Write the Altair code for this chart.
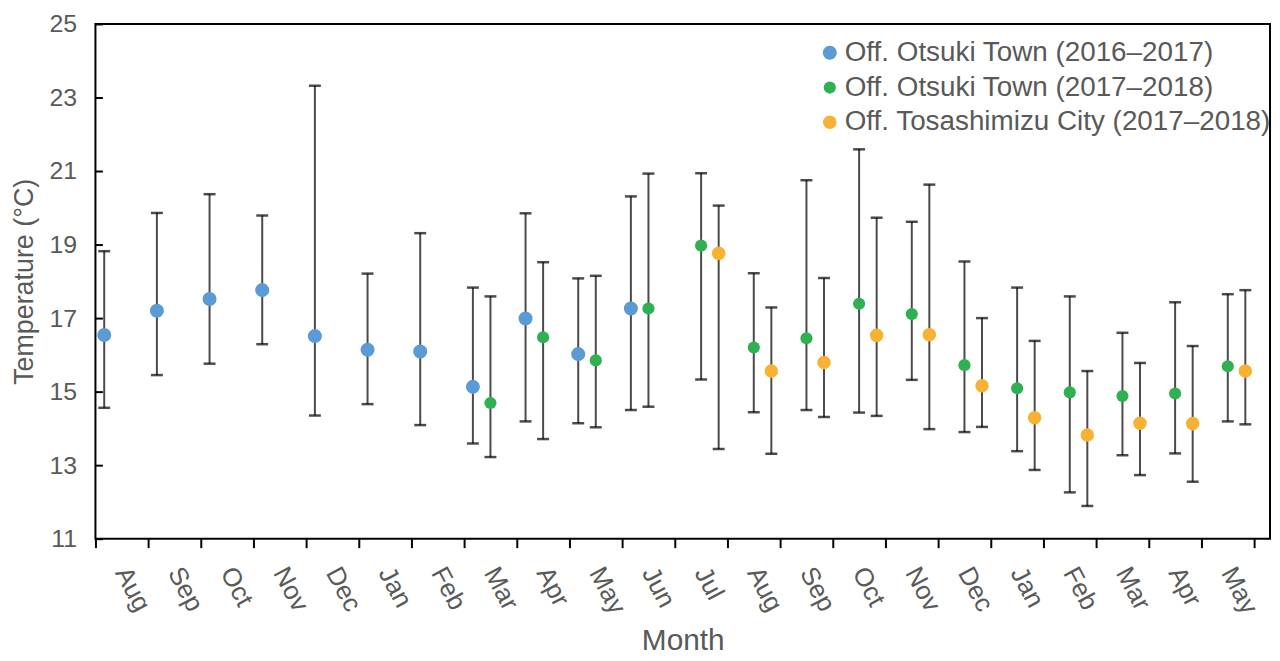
import altair as alt
import pandas as pd

# ---------------- data ----------------
months = ["Aug", "Sep", "Oct", "Nov", "Dec", "Jan", "Feb", "Mar", "Apr", "May", "Jun",
          "Jul", "Aug", "Sep", "Oct", "Nov", "Dec", "Jan", "Feb", "Mar", "Apr", "May"]
years = [2016] * 5 + [2017] * 12 + [2018] * 5
cats = [f"{m} {y}" for m, y in zip(months, years)]

s1 = "Off. Otsuki Town (2016\u20132017)"
s2 = "Off. Otsuki Town (2017\u20132018)"
s3 = "Off. Tosashimizu City (2017\u20132018)"
series_names = [s1, s2, s3]
series_colors = ["#5B9BD5", "#2EB053", "#F7B234"]
series_sizes = [200, 150, 185]

# Off. Otsuki Town 2016-2017 : Aug 2016 .. Jun 2017
blue_cats = cats[0:11]
blue_mean = [16.54, 17.20, 17.52, 17.76, 16.51, 16.14, 16.09, 15.13, 16.99, 16.02, 17.26]
blue_hi = [18.82, 19.86, 20.37, 19.79, 23.32, 18.21, 19.31, 17.83, 19.85, 18.08, 20.31]
blue_lo = [14.56, 15.45, 15.76, 16.29, 14.35, 14.66, 14.09, 13.59, 14.19, 14.14, 14.50]

# Off. Otsuki Town 2017-2018 : Mar 2017 .. May 2018
green_cats = cats[7:22]
green_mean = [14.69, 16.48, 15.85, 17.26, 18.97, 16.20, 16.45, 17.39, 17.11, 15.72, 15.09,
              14.98, 14.88, 14.95, 15.69]
green_hi = [17.59, 18.52, 18.15, 20.93, 20.94, 18.22, 20.75, 21.59, 19.62, 18.54, 17.83,
            17.59, 16.60, 17.43, 17.65]
green_lo = [13.22, 13.71, 14.03, 14.59, 15.33, 14.44, 14.50, 14.43, 15.32, 13.90, 13.38,
            12.26, 13.27, 13.32, 14.19]

# Off. Tosashimizu City 2017-2018 : Jul 2017 .. May 2018
orange_cats = cats[11:22]
orange_mean = [18.76, 15.56, 15.79, 16.53, 16.55, 15.16, 14.29, 13.82, 14.14, 14.13, 15.56]
orange_hi = [20.06, 17.29, 18.09, 19.73, 20.63, 17.00, 16.38, 15.56, 15.78, 16.24, 17.76]
orange_lo = [13.44, 13.31, 14.31, 14.34, 13.98, 14.04, 12.87, 11.89, 12.73, 12.55, 14.11]

y_ticks = [11, 13, 15, 17, 19, 21, 23, 25]

rows = []
for name, cs, ms, hs, ls in [
    (s1, blue_cats, blue_mean, blue_hi, blue_lo),
    (s2, green_cats, green_mean, green_hi, green_lo),
    (s3, orange_cats, orange_mean, orange_hi, orange_lo),
]:
    for c, m, h, l in zip(cs, ms, hs, ls):
        rows.append({"cat": c, "series": name, "mean": m, "hi": h, "lo": l})
df = pd.DataFrame(rows)

# ---------------- encodings ----------------
FONT = "Liberation Sans"
GRAY = "#595959"

x_domain = cats + ["end"]
x_axis = alt.Axis(
    title="Month", bandPosition=0, domain=False, grid=False,
    ticks=True, tickSize=9, tickWidth=2, tickColor="black",
    labelAngle=62, labelAlign="left", labelBaseline="middle", labelPadding=21,
    labelFontSize=26, labelColor=GRAY, labelFont=FONT, labelOverlap=False,
    labelExpr="datum.label == 'end' ? '' : split(datum.label, ' ')[0]",
    titleFontSize=30, titleColor=GRAY, titleFont=FONT, titleFontWeight="normal",
    titleX=591, titleY=118, titleBaseline="bottom", titleAlign="center",
)
x_enc = alt.X("cat:N", sort=x_domain,
              scale=alt.Scale(domain=x_domain, range=[0, 1219], paddingInner=0, paddingOuter=0),
              axis=x_axis)
xoff_enc = alt.XOffset("series:N", sort=series_names,
                       scale=alt.Scale(domain=series_names, paddingInner=0, paddingOuter=0))
y_scale = alt.Scale(domain=[11, 25], nice=False, zero=False)

main_y_axis = alt.Axis(
    title="Temperature (\u00b0C)", values=y_ticks, domain=False, grid=False,
    ticks=False, tickSize=0, labelPadding=19,
    labelFontSize=25, labelColor=GRAY, labelFont=FONT,
    titleFontSize=27, titleColor=GRAY, titleFont=FONT, titleFontWeight="normal",
    titleX=-57, titleY=259, titleAngle=270, titleBaseline="bottom", titleAlign="center",
    orient="left",
)
tick_y_axis = alt.Axis(
    title=None, values=y_ticks, labels=False, domain=False, grid=False,
    ticks=True, tickSize=7, tickWidth=2, tickColor="black", offset=-7, orient="left",
)

base = alt.Chart(df)

bars = base.mark_rule(color="#4a4a4a", strokeWidth=2).encode(
    x=x_enc, xOffset=xoff_enc,
    y=alt.Y("lo:Q", scale=y_scale, axis=tick_y_axis),
    y2="hi:Q",
)
cap_lo = base.mark_tick(color="black", thickness=2.5, size=12, orient="horizontal").encode(
    x=x_enc, xOffset=xoff_enc,
    y=alt.Y("lo:Q", scale=y_scale, axis=None),
)
cap_hi = base.mark_tick(color="black", thickness=2.5, size=12, orient="horizontal").encode(
    x=x_enc, xOffset=xoff_enc,
    y=alt.Y("hi:Q", scale=y_scale, axis=None),
)
points = base.mark_circle(opacity=1).encode(
    x=x_enc, xOffset=xoff_enc,
    y=alt.Y("mean:Q", scale=y_scale, axis=main_y_axis),
    color=alt.Color("series:N", sort=series_names,
                    scale=alt.Scale(domain=series_names, range=series_colors),
                    legend=alt.Legend(
                        title=None, orient="none", legendX=725, legendY=15,
                        padding=0, labelFontSize=28, labelColor=GRAY, labelFont=FONT,
                        labelOffset=1, rowPadding=7, symbolType="circle",
                        symbolStrokeWidth=0, labelLimit=600,
                    )),
    size=alt.Size("series:N", sort=series_names,
                  scale=alt.Scale(type="ordinal", domain=series_names, range=series_sizes),
                  legend=None),
)

chart = (
    alt.layer(bars, cap_lo, cap_hi, points)
    .resolve_axis(y="independent")
    .properties(
        width=1182, height=518,
        autosize=alt.AutoSizeParams(type="none"),
        padding={"left": 88, "top": 14, "right": 2, "bottom": 118},
        background="white",
    )
    .configure_view(stroke="black", strokeWidth=2)
)

chart.save("out.html", embed_options={"renderer": "svg", "actions": False})
